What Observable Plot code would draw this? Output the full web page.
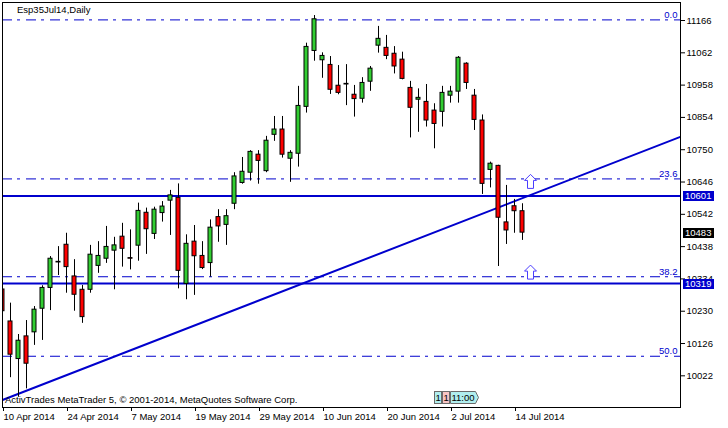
<!DOCTYPE html>
<html><head><meta charset="utf-8">
<script src="https://cdn.jsdelivr.net/npm/d3@7"></script>
<script src="https://cdn.jsdelivr.net/npm/@observablehq/plot@0.6"></script>
<style>
html,body{margin:0;padding:0;background:#fff;}
#wrap{position:relative;width:728px;height:428px;overflow:hidden;font-family:"Liberation Sans",Arial,sans-serif;}
.ov{position:absolute;font-size:9.5px;line-height:12px;color:#000;white-space:nowrap;}
.tag{position:absolute;width:31.5px;height:10px;font-size:9.5px;line-height:10px;color:#fff;padding-left:2.5px;box-sizing:border-box;white-space:nowrap;}
#wrap svg{display:block;}
</style></head><body><div id="wrap"></div>
<script>
const title = "Esp35Jul14,Daily";
const credit = "ActivTrades MetaTrader 5, \u00a9 2001-2014, MetaQuotes Software Corp.";
const dateTicks = [0, 8, 16, 24, 32, 40, 48, 56, 64];
const dateLabels = ["10 Apr 2014","24 Apr 2014","7 May 2014","19 May 2014","29 May 2014","10 Jun 2014","20 Jun 2014","2 Jul 2014","14 Jul 2014"];
const priceTicks = [10022,10126,10230,10334,10438,10542,10646,10750,10854,10958,11062,11166];
const opens  = [10300,10197,10076,10149,10162,10238,10305,10389,10444,10342,10299,10299,10376,10399,10425,10470,10401,10441,10547,10479,10546,10586,10595,10318,10454,10408,10385,10533,10508,10576,10643,10676,10734,10681,10798,10815,10721,10737,10888,11068,11038,11023,10956,10962,10927,10914,10969,11085,11078,11059,11040,10949,10911,10904,10876,10872,10924,10937,11027,10924,10844,10685,10698,10516,10568,10552];
const highs  = [10309,10256,10155,10200,10245,10312,10406,10438,10481,10396,10313,10442,10454,10503,10468,10513,10492,10578,10562,10565,10583,10619,10640,10476,10506,10454,10524,10557,10557,10676,10725,10747,10747,10793,10857,10857,10747,10954,11093,11182,11062,11050,11021,11024,10957,10982,11018,11147,11118,11082,11064,10970,10946,10960,10898,10954,10954,11050,11030,10944,10862,10710,10700,10635,10590,10576];
const lows   = [10219,10016, 9953, 9980,10120,10136,10232,10345,10288,10230,10191,10288,10352,10384,10299,10372,10363,10391,10413,10461,10517,10474,10302,10267,10281,10364,10340,10452,10442,10557,10639,10649,10639,10676,10777,10723,10645,10694,10868,11035,10980,10928,10927,10892,10855,10900,10938,11061,11040,10994,10975,10788,10806,10823,10753,10823,10900,10900,10944,10812,10606,10627,10374,10445,10481,10458];
const closes = [10230,10090,10135,10061,10235,10305,10399,10387,10372,10283,10211,10412,10408,10437,10442,10431,10399,10553,10494,10557,10567,10603,10360,10447,10407,10369,10499,10503,10536,10664,10679,10743,10714,10779,10815,10734,10740,10891,11081,11170,11052,10943,10933,10960,10913,10965,11011,11107,11052,11018,10978,10885,10917,10844,10833,10933,10937,11046,10965,10846,10640,10705,10531,10490,10552,10483];
const fibLevels = [11168, 10656, 10341, 10085];
const fibLabels = ["0.0", "23.6", "38.2", "50.0"];
const hLevels = [10601, 10319];
const trendIdx = [0, 80];
const trendVal = [9944, 10744];
const arrowIdx = [66, 66];
const arrowVal = [10648, 10356];
const tagPrices = [10601, 10483, 10319];
const tagColors = ["#0000cd", "#000000", "#0000cd"];

const blue = "#0000cd", green = "#32cd32", red = "#ff0000", arrowColor = "#4a3cff";
const bars = opens.map((o, i) => ({i, o, h: highs[i], l: lows[i], c: closes[i]}));
const xDom = [0, 84.75];
const yDom = [9920, 11224];
const slope = (trendVal[1] - trendVal[0]) / (trendIdx[1] - trendIdx[0]);
const trendPts = xDom.map(x => ({x, y: trendVal[0] + slope * (x - trendIdx[0])}));
const arrows = arrowIdx.map((x, i) => ({x, y: arrowVal[i]}));
const upArrow = {draw(ctx) {
  ctx.moveTo(0, -7); ctx.lineTo(6, -1); ctx.lineTo(3, -1); ctx.lineTo(3, 7);
  ctx.lineTo(-3, 7); ctx.lineTo(-3, -1); ctx.lineTo(-6, -1); ctx.closePath();
}};

const chart = Plot.plot({
  width: 728, height: 428,
  marginLeft: 2, marginRight: 48, marginTop: 2, marginBottom: 21,
  style: {fontFamily: "Liberation Sans, Arial, sans-serif", fontSize: "9.5px", background: "white", color: "black", overflow: "visible"},
  x: {type: "linear", domain: xDom},
  y: {domain: yDom},
  marks: [
    Plot.ruleY(fibLevels, {y: d => d, stroke: blue, strokeWidth: 1, strokeDasharray: "10,5,3,6"}),
    Plot.ruleY(hLevels, {y: d => d, stroke: blue, strokeWidth: 2}),
    Plot.line(trendPts, {x: "x", y: "y", stroke: blue, strokeWidth: 2, clip: true}),
    Plot.ruleX(bars, {x: "i", y1: "l", y2: "h", stroke: "black", strokeWidth: 1, clip: true}),
    Plot.rect(bars.filter(d => d.c >= d.o), {x1: d => d.i - 0.25, x2: d => d.i + 0.25, y1: "o", y2: "c", fill: green, stroke: "black", strokeWidth: 1, clip: true}),
    Plot.rect(bars.filter(d => d.c < d.o), {x1: d => d.i - 0.25, x2: d => d.i + 0.25, y1: "o", y2: "c", fill: red, stroke: "black", strokeWidth: 1, clip: true}),
    Plot.text(fibLevels, {x: () => xDom[1], y: d => d, text: (d, i) => fibLabels[i], textAnchor: "end", lineAnchor: "bottom", dx: -3, dy: -2, fill: blue}),
    Plot.dot(arrows, {x: "x", y: "y", symbol: upArrow, r: 7, fill: "white", stroke: arrowColor, strokeWidth: 1}),
    Plot.axisY({anchor: "right", ticks: priceTicks, tickSize: 4, tickPadding: 2, tickFormat: d => String(d), label: null}),
    Plot.axisX({ticks: dateTicks, tickSize: 4, tickPadding: 2, tickFormat: d => dateLabels[dateTicks.indexOf(d)], textAnchor: "start", dx: 1, label: null}),
    Plot.frame({stroke: "black"})
  ]
});
const wrap = document.getElementById("wrap");
wrap.appendChild(chart);
const ys = chart.scale("y");
tagPrices.forEach((p, k) => {
  const d = document.createElement("div");
  d.className = "tag";
  d.style.left = "682.5px";
  d.style.top = Math.round(ys.apply(p) - 4.5) + "px";
  d.style.background = tagColors[k];
  d.textContent = String(p);
  wrap.appendChild(d);
});
const t = document.createElement("div"); t.className = "ov"; t.style.left = "17px"; t.style.top = "4px"; t.textContent = title; wrap.appendChild(t);
const c = document.createElement("div"); c.className = "ov"; c.style.left = "5px"; c.style.top = "394px"; c.textContent = credit; wrap.appendChild(c);
const ns = "http://www.w3.org/2000/svg";
const badge = document.createElementNS(ns, "svg");
badge.setAttribute("width", 728); badge.setAttribute("height", 428);
badge.style.position = "absolute"; badge.style.left = "0"; badge.style.top = "0"; badge.style.pointerEvents = "none";
badge.innerHTML = '<g font-family="Liberation Sans, Arial, sans-serif" font-size="9.5px">'
  + '<rect x="434.5" y="391.5" width="7" height="12" fill="#b0eeee" stroke="#6a6a6a"/>'
  + '<text x="435.5" y="401">1</text>'
  + '<rect x="442.5" y="391.5" width="7" height="12" fill="#f6c4c4" stroke="#6a6a6a"/>'
  + '<text x="443.5" y="401">1</text>'
  + '<path d="M450.5,391.5 H475.5 L478.5,397.5 L475.5,403.5 H450.5 Z" fill="#b0eeee" stroke="#6a6a6a"/>'
  + '<text x="451.5" y="401">11:00</text></g>';
wrap.appendChild(badge);
</script></body></html>
